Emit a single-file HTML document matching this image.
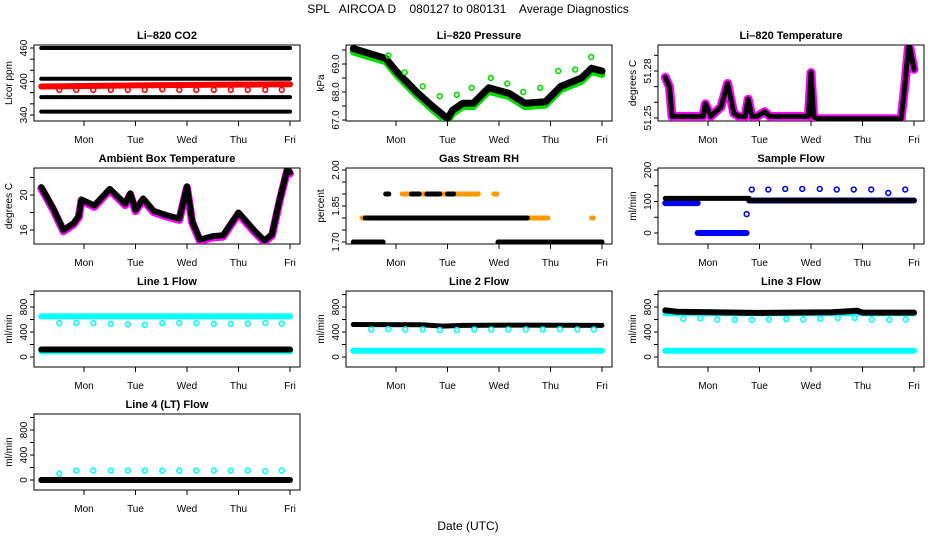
<!DOCTYPE html>
<html><head><meta charset="utf-8"><style>
html,body{margin:0;padding:0;background:#fff;}
svg{display:block;font-family:"Liberation Sans",sans-serif;}
</style></head><body>
<svg id="chart" width="936" height="540" viewBox="0 0 936 540">
<text x="468" y="13" font-size="12" text-anchor="middle" xml:space="preserve">SPL   AIRCOA D    080127 to 080131    Average Diagnostics</text>
<text x="468" y="530" font-size="12" text-anchor="middle">Date (UTC)</text>
</svg>
<script>
const dayLabels=['Mon','Tue','Wed','Thu','Fri'];
// CO2
const co2Bands=[460,405,372,346];
const co2RedT=[-0.83,1.0,2.5,4.0];
const co2RedV=[391,393,394,395];
const co2CircT=[-0.48,-0.15,0.18,0.52,0.85,1.18,1.52,1.85,2.18,2.52,2.85,3.18,3.52,3.84];
const co2CircV=[385,385,385,385,385,385,386,385,385,385,385,385,385,385];
// Pressure
const presT=[-0.83,-0.2,0,0.4,0.7,1.0,1.1,1.3,1.5,1.8,2.2,2.5,2.9,3.2,3.6,3.8,4.0];
const presV=[69.55,69.2,68.75,68.0,67.5,67.05,67.35,67.6,67.6,68.15,67.95,67.6,67.65,68.2,68.5,68.85,68.75];
const presCT=[-0.15,0.17,0.52,0.85,1.18,1.47,1.84,2.16,2.47,2.8,3.15,3.48,3.79];
const presCV=[69.3,68.7,68.2,67.85,67.9,68.15,68.5,68.3,68.0,68.15,68.75,68.8,69.25];
// Li-820 temperature
const ltT=[-0.83,-0.75,-0.7,-0.1,-0.05,0.05,0.25,0.38,0.5,0.6,0.72,0.78,0.85,0.95,1.1,1.2,1.95,2.0,2.05,2.12,3.75,3.82,3.9,4.0];
const ltV=[51.276,51.270,51.251,51.251,51.259,51.251,51.257,51.272,51.253,51.251,51.251,51.262,51.251,51.251,51.254,51.251,51.251,51.279,51.251,51.2495,51.2495,51.27,51.298,51.281];
// Ambient box temperature
const abT=[-0.83,-0.6,-0.4,-0.2,-0.1,-0.05,0.2,0.5,0.8,0.9,1.0,1.15,1.35,1.6,1.85,2.0,2.1,2.25,2.5,2.7,3.0,3.3,3.5,3.65,3.8,3.95,4.0];
const abV=[20.9,18.5,16.0,16.8,17.6,19.5,18.8,20.7,19.0,20.2,18.3,19.6,18.2,17.7,17.3,21.0,17.0,14.9,15.3,15.4,18.0,16.0,14.8,15.5,19.5,23.0,22.6];
// Gas stream RH segments [start,end,value]
const rhBlackSeg=[[-0.83,-0.25,1.70],[-0.6,2.55,1.80],[-0.2,-0.14,1.90],[0.3,0.45,1.90],[0.6,0.85,1.90],[1.0,1.12,1.90],[1.98,4.0,1.70]];
const rhOrangeSeg=[[-0.66,-0.6,1.80],[2.5,2.95,1.80],[3.8,3.83,1.80],[0.12,1.6,1.90],[1.9,1.96,1.90]];
// Sample flow
const sfBlackSeg=[[-0.83,0.8,110],[0.8,4.0,103]];
const sfBlueSeg=[[-0.83,-0.2,95],[-0.2,0.75,0],[0.8,4.0,103]];
const sfCircT=[0.75,0.85,1.17,1.5,1.83,2.17,2.5,2.83,3.17,3.5,3.83];
const sfCircV=[60,138,138,140,140,140,138,138,138,127,138];
// Line flows
const flowCircT=[-0.48,-0.15,0.18,0.52,0.85,1.18,1.52,1.85,2.18,2.52,2.85,3.18,3.52,3.84];
const l1CyanSeg=[[-0.83,4.0,650],[-0.83,4.0,90]];
const l1BlackSeg=[[-0.83,4.0,120]];
const l1CircV=[540,545,540,530,520,515,540,545,540,530,530,535,545,535];
const l2CyanSeg=[[-0.83,4.0,100]];
const l2BlackT=[-0.83,0.5,0.9,1.3,2.5,4.0];
const l2BlackV=[520,515,495,505,510,505];
const l2CircV=[440,445,440,440,430,430,440,440,440,440,440,445,440,440];
const l3CyanSeg=[[-0.83,4.0,100]];
const l3CyanT=[-0.83,4.0];
const l3CyanV=[700,700];
const l3BlackT=[-0.83,-0.6,0.9,2.4,2.9,3.0,4.0];
const l3BlackV=[745,725,705,715,740,710,710];
const l3CircV=[610,620,600,595,595,600,605,600,610,625,625,600,595,600];
const l4BlackSeg=[[-0.83,4.0,0]];
const l4CircV=[100,150,150,150,150,150,150,150,150,150,150,150,140,150];

const svg=document.getElementById('chart');
const NS='http://www.w3.org/2000/svg';
function mk(tag,attrs,parent){const e=document.createElementNS(NS,tag);for(const k in attrs)e.setAttribute(k,attrs[k]);(parent||svg).appendChild(e);return e;}

function panel(c,r,title,ylab,v1,p1,v2,p2,ticks,labels,dec,key){
  const x0=34+312*c,x1=300+312*c,y0=45+123*r,y1=121+123*r;
  const g=mk('g',{});
  
  
  const X=d=>84+312*c+51.5*d;
  const Y=v=>123*r+p1+(v-v1)*(p2-p1)/(v2-v1);
  const t=mk('text',{x:(x0+x1)/2,y:y0-6,'font-size':11,'font-weight':'bold','text-anchor':'middle'},g);
  t.textContent=title;
  
  
  const yl=mk('text',{transform:`translate(${x0-22},${(y0+y1)/2}) rotate(-90)`,'font-size':10,'text-anchor':'middle'},g);
  yl.textContent=ylab;
  
  
  const box=mk('rect',{x:x0,y:y0,width:x1-x0,height:y1-y0,fill:'none',stroke:'#000','stroke-width':1},g);
  
  
  ticks.forEach(v=>{
    const tk=mk('line',{x1:x0,x2:x0-4,y1:Y(v),y2:Y(v),stroke:'#000'},g);
    
    
  });
  labels.forEach(v=>{
    const tl=mk('text',{transform:`translate(${x0-7},${Y(v)}) rotate(-90)`,'font-size':10,'text-anchor':'middle'},g);
    tl.textContent=v.toFixed(dec);
    
    
  });
  dayLabels.forEach((dl,i)=>{
    const tk=mk('line',{x1:X(i),x2:X(i),y1:y1,y2:y1+5,stroke:'#000'},g);
    
    
    const tl=mk('text',{x:X(i),y:y1+22,'font-size':10,'text-anchor':'middle'},g);
    tl.textContent=dl;
    
    
  });
  const clip=mk('clipPath',{id:'clip'+key},g);
  mk('rect',{x:x0,y:y0,width:x1-x0,height:y1-y0},clip);
  const data=mk('g',{'clip-path':`url(#clip${key})`},g);
  
  
  return {X,Y,g:data};
}
function line(p,T,V,color,w,name){
  const pts=T.map((t,i)=>p.X(t).toFixed(1)+','+p.Y(V[i]).toFixed(1)).join(' ');
  const e=mk('polyline',{points:pts,fill:'none',stroke:color,'stroke-width':w,'stroke-linejoin':'round','stroke-linecap':'round'},p.g);
  
  
}
function segs(p,S,color,w,name){
  S.forEach(s=>{
    const e=mk('line',{x1:p.X(s[0]),x2:p.X(s[1]),y1:p.Y(s[2]),y2:p.Y(s[2]),stroke:color,'stroke-width':w,'stroke-linecap':'round'},p.g);
    
    
  });
}
function circles(p,T,V,color,name){
  T.forEach((t,i)=>{
    const e=mk('circle',{cx:p.X(t),cy:p.Y(V[i]),r:2.4,fill:'none',stroke:color,'stroke-width':1.6},p.g);
    
    
  });
}

// Li-820 CO2
let p=panel(0,0,'Li–820 CO2','Licor ppm',460,48,340,115,[340,360,380,400,420,440,460],[340,400,460],0,'co2');
segs(p,co2Bands.map(v=>[-0.83,4.0,v]),'#000',4,'co2-reference-band');
line(p,co2RedT,co2RedV,'#f00',6,'co2-sample-line');
circles(p,co2CircT,co2CircV,'#f00','co2-calibration-point');
// Pressure
p=panel(1,0,'Li–820 Pressure','kPa',69.0,64,67.0,120,[67,67.5,68,68.5,69,69.5],[67.0,68.0,69.0],1,'pressure');
line(p,presT,presV.map(v=>v-0.12),'#0d0',7,'pressure-green-line');
line(p,presT,presV,'#000',7,'pressure-black-line');
circles(p,presCT,presCV,'#0d0','pressure-cal-point');
// Li-820 temp
p=panel(2,0,'Li–820 Temperature','degrees C',51.25,118,51.28,71,[51.25,51.26,51.27,51.28,51.29],[51.25,51.28],2,'li-temp');
line(p,ltT,ltV,'#f0f',9,'li-temp-magenta-line');
line(p,ltT,ltV,'#000',5,'li-temp-black-line');
// Ambient
p=panel(0,1,'Ambient Box Temperature','degrees C',20,195-123,16,230-123,[16,18,20,22],[16,20],0,'ambient');
line(p,abT,abV.map(v=>v-0.15),'#f0f',8,'ambient-magenta-line');
line(p,abT,abV,'#000',6,'ambient-black-line');
// RH
p=panel(1,1,'Gas Stream RH','percent',1.70,242-123,2.00,170-123,[1.70,1.75,1.80,1.85,1.90,1.95,2.00],[1.70,1.85,2.00],2,'rh');
segs(p,rhOrangeSeg,'#f90',5,'rh-orange-band');
segs(p,rhBlackSeg,'#000',5,'rh-black-band');
// Sample flow
p=panel(2,1,'Sample Flow','ml/min',0,233-123,200,170-123,[0,50,100,150,200],[0,100,200],0,'sample-flow');
segs(p,sfBlueSeg,'#00f',6,'sample-flow-blue-band');
segs(p,sfBlackSeg,'#000',5,'sample-flow-black-band');
circles(p,sfCircT,sfCircV,'#00f','sample-flow-cal-point');
// Line 1
const fT=[0,200,400,600,800,1000],fL=[0,400,800];
p=panel(0,2,'Line 1 Flow','ml/min',0,357-246,800,307-246,fT,fL,0,'line1');
segs(p,l1CyanSeg,'#0ff',6,'line1-cyan-band');
segs(p,l1BlackSeg,'#000',6,'line1-black-band');
circles(p,flowCircT,l1CircV,'#0ff','line1-cal-point');
// Line 2
p=panel(1,2,'Line 2 Flow','ml/min',0,357-246,800,307-246,fT,fL,0,'line2');
segs(p,l2CyanSeg,'#0ff',6,'line2-cyan-band');
line(p,l2BlackT,l2BlackV,'#000',5,'line2-black-line');
circles(p,flowCircT,l2CircV,'#0ff','line2-cal-point');
// Line 3
p=panel(2,2,'Line 3 Flow','ml/min',0,357-246,800,307-246,fT,fL,0,'line3');
segs(p,l3CyanSeg,'#0ff',6,'line3-cyan-band');
line(p,l3CyanT,l3CyanV,'#0ff',6,'line3-cyan-line');
line(p,l3BlackT,l3BlackV,'#000',6,'line3-black-line');
circles(p,flowCircT,l3CircV,'#0ff','line3-cal-point');
// Line 4
p=panel(0,3,'Line 4 (LT) Flow','ml/min',0,357-246,800,307-246,fT,fL,0,'line4');
segs(p,l4BlackSeg,'#000',6,'line4-black-band');
circles(p,flowCircT,l4CircV,'#0ff','line4-cal-point');
</script>
</body></html>
